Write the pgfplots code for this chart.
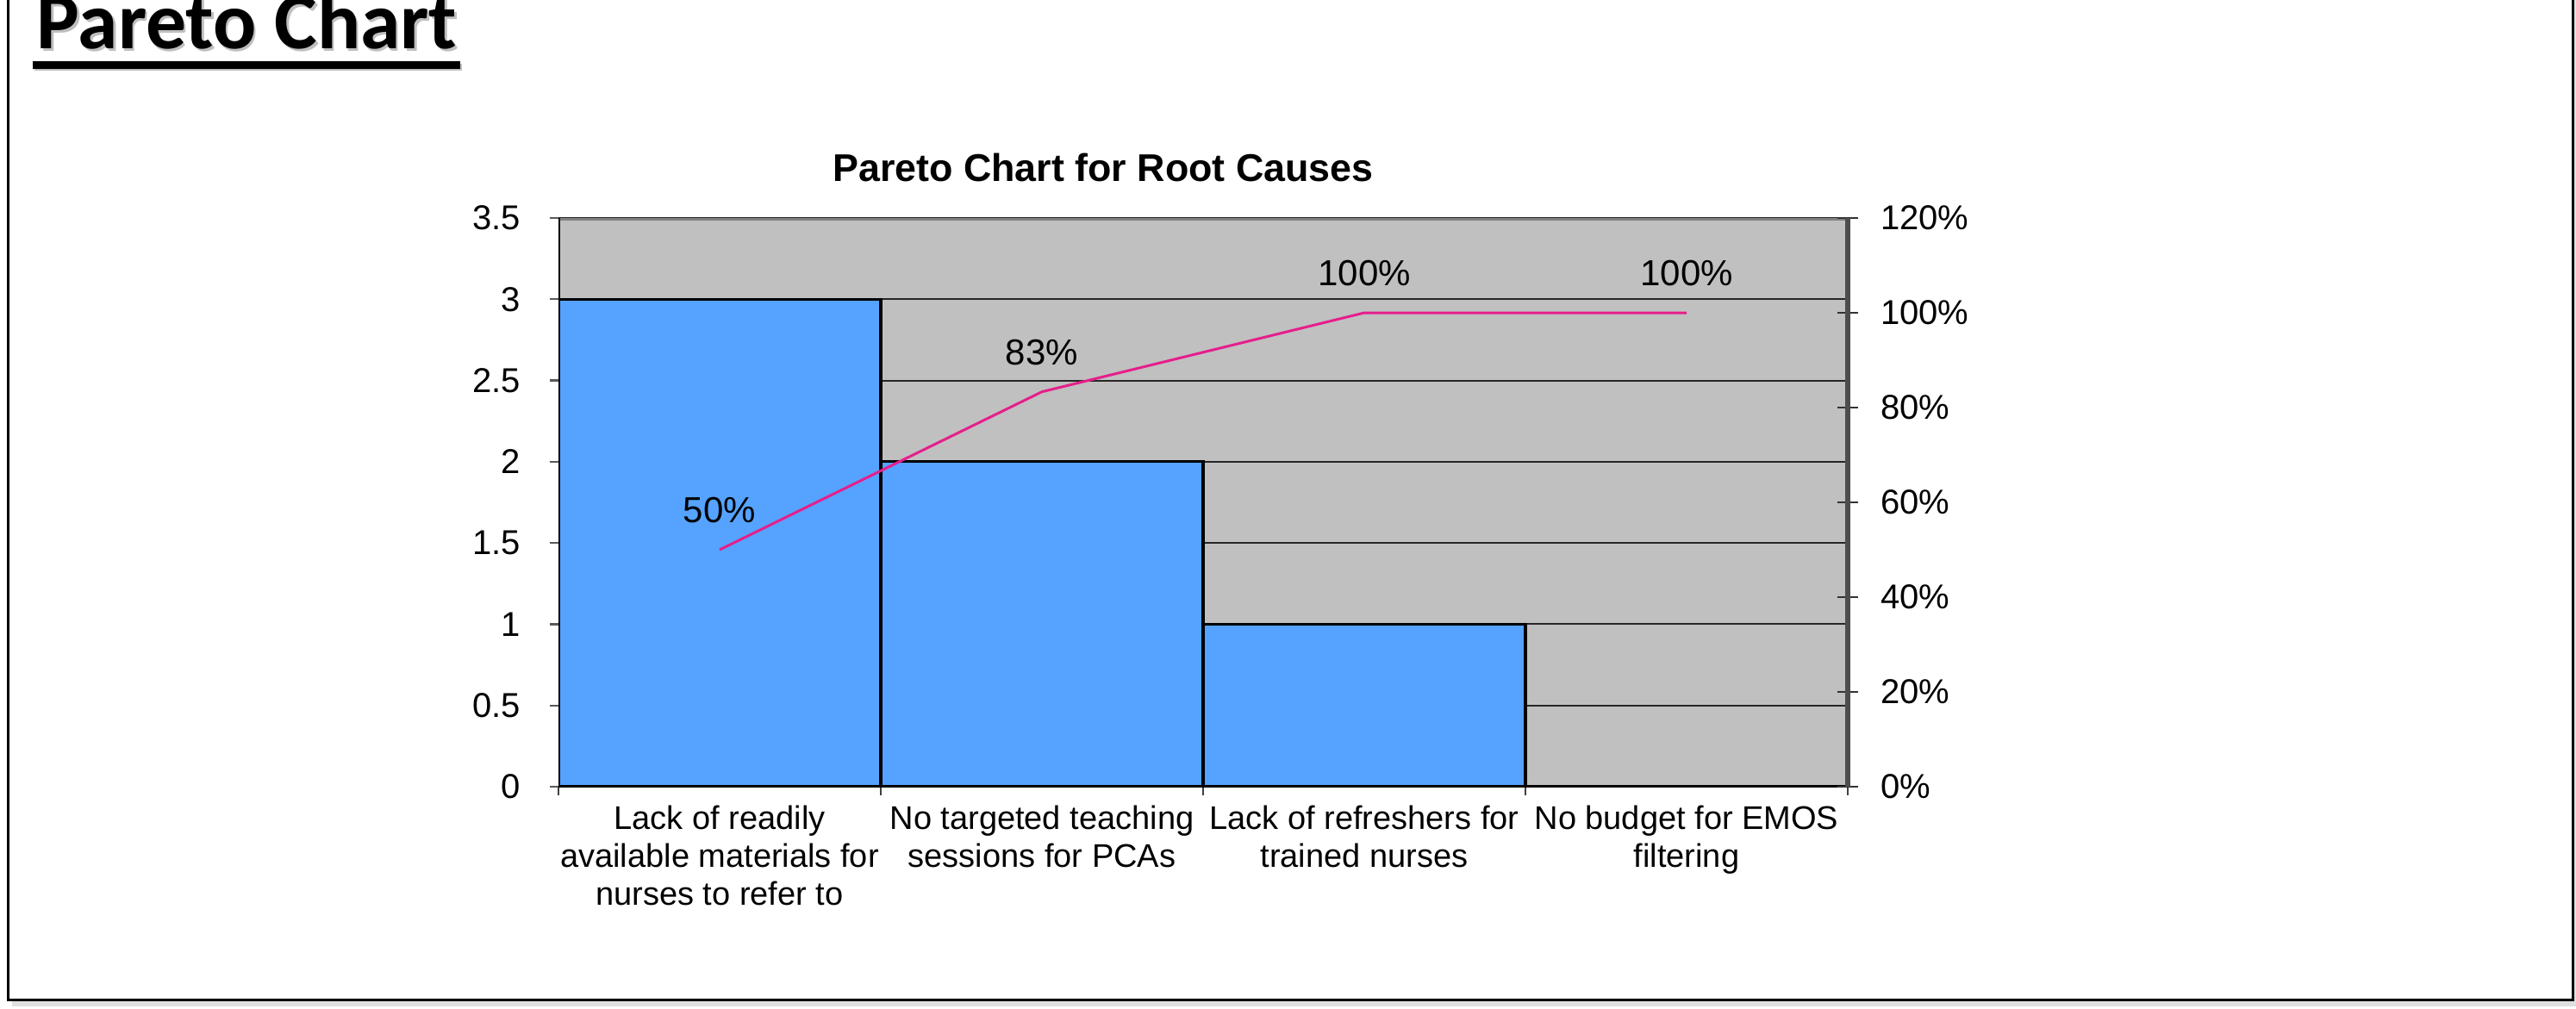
\documentclass[border=0pt]{standalone}
\usepackage{fontspec}
\setmainfont{Liberation Sans}
\newfontfamily\calibri{Carlito}
\usepackage{pgfplots}
\pgfplotsset{compat=1.18}
\definecolor{barblue}{RGB}{85,163,255}
\definecolor{plotgray}{RGB}{192,192,192}
\definecolor{linepink}{RGB}{230,30,140}
\definecolor{bordergray}{RGB}{128,128,128}
\definecolor{rightgray}{RGB}{77,77,77}
\begin{document}
\begin{tikzpicture}
\useasboundingbox (0,0) rectangle (747.25pt,292.5pt);
% frame
\draw[black!12, line width=1.5pt] (747.5pt,292.5pt) -- (747.5pt,1.2pt) -- (3.5pt,1.2pt);
\draw[black, line width=0.75pt] (2.25pt,292.5pt) -- (2.25pt,2.5pt) -- (746.25pt,2.5pt) -- (746.25pt,292.5pt);
% page title
\node[anchor=base west, inner sep=0, text=black!25, font=\calibri\bfseries\fontsize{23.4}{28}\selectfont] at (11.1pt,277.6pt) {Pareto Chart};
\node[anchor=base west, inner sep=0, font=\calibri\bfseries\fontsize{23.4}{28}\selectfont] at (10.5pt,278.25pt) {Pareto Chart};
\fill[black!25] (10.1pt,271.9pt) rectangle (134.1pt,274.1pt);
\fill[black] (9.5pt,272.5pt) rectangle (133.5pt,274.75pt);
% chart title
\node[font=\bfseries\fontsize{11.2}{13}\selectfont] at (320pt,244pt) {Pareto Chart for Root Causes};

\begin{axis}[
  at={(162pt,64.25pt)}, anchor=south west,
  width=374pt, height=165pt, scale only axis,
  xmin=0.5, xmax=4.5, ymin=0, ymax=3.5,
  axis background/.style={fill=plotgray},
  axis line style={draw=none},
  ytick={0,0.5,1,1.5,2,2.5,3,3.5},
  yticklabels={0,0.5,1,1.5,2,2.5,3,3.5},
  ymajorgrids,
  y grid style={black!85, line width=0.5pt},
  ytick align=outside, ytick pos=left,
  major tick length=2.5pt,
  ytick style={black!65, line width=0.6pt},
  yticklabel style={font=\fontsize{10}{12}\selectfont, xshift=-5pt},
  xtick={1,2,3,4},
  xticklabels={{Lack of readily\\available materials for\\nurses to refer to},
               {No targeted teaching\\sessions for PCAs},
               {Lack of refreshers for\\trained nurses},
               {No budget for EMOS\\filtering}},
  xticklabel style={align=center, font=\fontsize{9.5}{11}\selectfont, yshift=-2pt},
  xtick style={draw=none},
  xtick pos=bottom,
  extra x ticks={0.5,1.5,2.5,3.5,4.5},
  extra x tick labels={},
  extra x tick style={xtick style={draw=black!75, line width=0.6pt}, tick align=outside, grid=none},
]
\addplot[ybar, bar width=1, fill=barblue, draw=black, line width=0.8pt]
  coordinates {(1,3) (2,2) (3,1) (4,0)};
\draw[bordergray, line width=1.3pt] (rel axis cs:0,1) -- (rel axis cs:1,1);
\draw[rightgray, line width=1.6pt] (rel axis cs:1,0) -- (rel axis cs:1,1);
\draw[black, line width=1pt] (rel axis cs:0,0) -- (rel axis cs:0,1);
\draw[black, line width=1pt] (rel axis cs:0,0) -- (rel axis cs:1,0);
\end{axis}

\begin{axis}[
  at={(162pt,64.25pt)}, anchor=south west,
  width=374pt, height=165pt, scale only axis,
  xmin=0.5, xmax=4.5, ymin=0, ymax=120,
  axis x line=none, axis y line*=right,
  y axis line style={rightgray, line width=1.6pt},
  ytick={0,20,40,60,80,100,120},
  yticklabels={0\%,20\%,40\%,60\%,80\%,100\%,120\%},
  ytick align=center, major tick length=6pt,
  ytick style={black!80, line width=0.6pt},
  yticklabel style={font=\fontsize{10}{12}\selectfont, xshift=3pt},
]
\addplot[linepink, line width=0.75pt, nodes near coords, point meta=explicit symbolic,
  every node near coord/.append style={font=\fontsize{10.5}{12}\selectfont, text=black, anchor=center, yshift=11.5pt}]
  coordinates {(1,50)[50\%] (2,83.33)[83\%] (3,100)[100\%] (4,100)[100\%]};
\end{axis}
\end{tikzpicture}
\end{document}
